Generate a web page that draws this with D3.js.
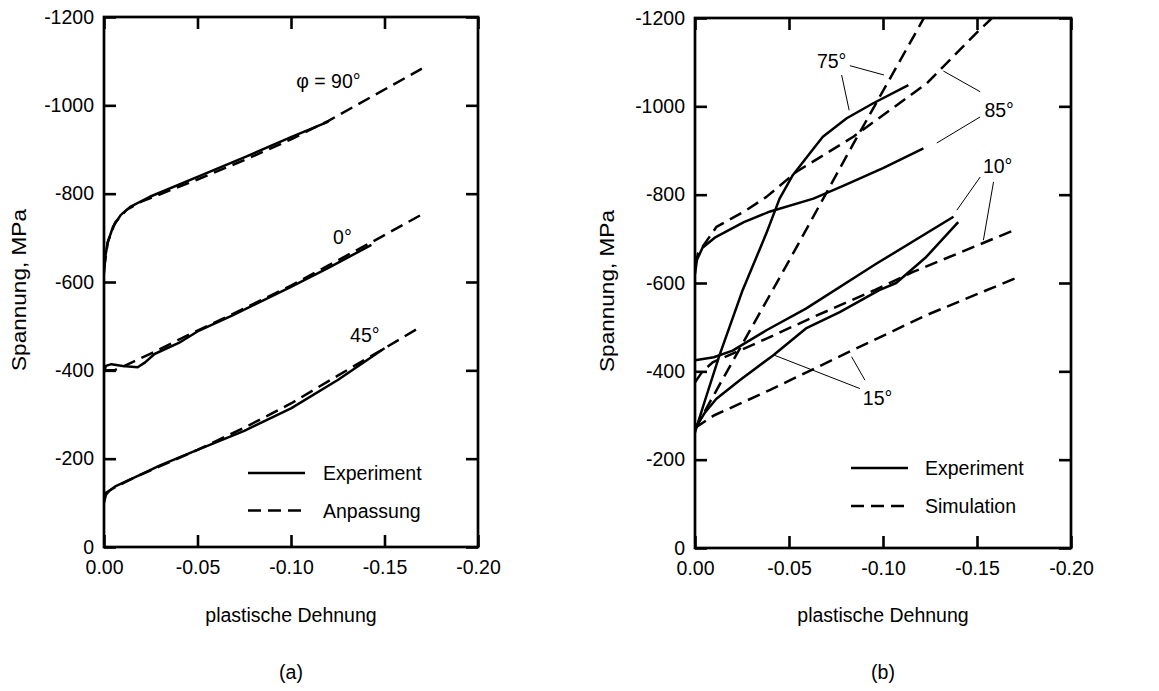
<!DOCTYPE html>
<html><head><meta charset="utf-8">
<script src="https://cdn.jsdelivr.net/npm/d3@7"></script>
<style>
body{margin:0;background:#fff}
text{font-family:"Liberation Sans",Arial,Helvetica,sans-serif;fill:#000}
</style>
</head><body>
<svg id="chart" width="1159" height="691"></svg>
<script>
// ---------- shared axis data ----------
const xTicks = [0, -0.05, -0.10, -0.15, -0.20];
const xTickLabels = ["0.00", "-0.05", "-0.10", "-0.15", "-0.20"];
const yTicks = [0, -200, -400, -600, -800, -1000, -1200];
const yTickLabels = ["0", "-200", "-400", "-600", "-800", "-1000", "-1200"];
const xTitle = "plastische Dehnung";
const yTitle = "Spannung, MPa";
const panelCaptions = ["(a)", "(b)"];

// ---------- panel (a): Experiment vs Anpassung ----------
const expA90 = [[0,-620],[-0.0008,-660],[-0.002,-690],[-0.0048,-725],[-0.009,-752],[-0.014,-770],[-0.0245,-793],[-0.05,-838],[-0.075,-882],[-0.10,-928],[-0.12,-963]];
const fitA90 = [[0,-630],[-0.002,-690],[-0.006,-735],[-0.012,-763],[-0.02,-782],[-0.05,-832],[-0.075,-876],[-0.10,-923],[-0.12,-965],[-0.17,-1083]];
const expA0  = [[0,-396],[-0.001,-410],[-0.004,-414],[-0.01,-410],[-0.018,-407],[-0.022,-418],[-0.027,-437],[-0.04,-462],[-0.05,-488],[-0.069,-525],[-0.10,-589],[-0.12,-632],[-0.143,-684]];
const fitA0  = [[0,-400],[-0.006,-401],[-0.015,-418],[-0.025,-438],[-0.05,-490],[-0.075,-540],[-0.10,-592],[-0.143,-690],[-0.17,-753]];
const expA45 = [[0,-100],[-0.001,-118],[-0.003,-128],[-0.006,-137],[-0.015,-155],[-0.03,-185],[-0.05,-220],[-0.075,-263],[-0.10,-314],[-0.125,-378],[-0.15,-450]];
const fitA45 = [[0,-120],[-0.005,-133],[-0.015,-155],[-0.03,-183],[-0.05,-220],[-0.075,-270],[-0.10,-325],[-0.125,-388],[-0.15,-450],[-0.17,-500]];
const labelsA = [
  {text:"\u03C6 = 90\u00B0", x:-0.120, y:-1039},
  {text:"0\u00B0", x:-0.1275, y:-685},
  {text:"45\u00B0", x:-0.1395, y:-464}
];
const legendA = ["Experiment", "Anpassung"];

// ---------- panel (b): Experiment vs Simulation ----------
const expB85 = [[0,-620],[-0.001,-652],[-0.004,-680],[-0.011,-704],[-0.026,-738],[-0.04,-762],[-0.063,-791],[-0.08,-822],[-0.10,-860],[-0.1215,-905]];
const simB85 = [[0,-640],[-0.0016,-667],[-0.0114,-727],[-0.0274,-765],[-0.038,-795],[-0.054,-852],[-0.0842,-931],[-0.1233,-1052],[-0.1499,-1167],[-0.158,-1200]];
const expB75 = [[0,-262],[-0.005,-330],[-0.013,-436],[-0.025,-580],[-0.038,-713],[-0.045,-791],[-0.052,-844],[-0.061,-893],[-0.068,-931],[-0.0807,-973],[-0.0948,-1007],[-0.1135,-1048]];
const simB75 = [[0,-270],[-0.0256,-465],[-0.05,-650],[-0.0842,-915],[-0.1206,-1191],[-0.1218,-1200]];
const expB10 = [[0,-425],[-0.01,-432],[-0.02,-447],[-0.038,-493],[-0.059,-542],[-0.0966,-644],[-0.1375,-750]];
const simB10 = [[0,-375],[-0.004,-400],[-0.0096,-421],[-0.02,-440],[-0.038,-474],[-0.063,-523],[-0.095,-583],[-0.116,-625],[-0.17,-720]];
const expB15 = [[0,-270],[-0.005,-305],[-0.0114,-338],[-0.0238,-380],[-0.0415,-436],[-0.059,-497],[-0.077,-534],[-0.098,-584],[-0.107,-600],[-0.123,-659],[-0.14,-738]];
const simB15 = [[0,-272],[-0.01,-300],[-0.04,-358],[-0.08,-440],[-0.123,-527],[-0.17,-610]];
const labelsB = [
  {text:"75\u00B0", x:-0.0727, y:-1086},
  {text:"85\u00B0", x:-0.1618, y:-975},
  {text:"10\u00B0", x:-0.1610, y:-849},
  {text:"15\u00B0", x:-0.0971, y:-323}
];
const leadersB = [
  [[-0.0824,-1092],[-0.1005,-1071]],
  [[-0.078,-1071],[-0.082,-991]],
  [[-0.1321,-1080],[-0.1517,-1033]],
  [[-0.1286,-917],[-0.1517,-976]],
  [[-0.1393,-765],[-0.1517,-840]],
  [[-0.1588,-829],[-0.1534,-697]],
  [[-0.0425,-436],[-0.0877,-361]],
  [[-0.0833,-433],[-0.0904,-380]]
];
const legendB = ["Experiment", "Simulation"];

// ---------- drawing ----------
const svg = d3.select("#chart");
const FS = 19.5;
const DASH = "13,7";

function panel(opts){
  const {x0,x1,y0,y1,series,labels,leaders,legend,legendPos,ytitleX,caption,id} = opts;
  const x = d3.scaleLinear().domain([0,-0.20]).range([x0,x1]);
  const y = d3.scaleLinear().domain([0,-1200]).range([y1,y0]);
  const g = svg.append("g");

  g.append("clipPath").attr("id","clip"+id)
    .append("rect").attr("x",x0).attr("y",y0).attr("width",x1-x0).attr("height",y1-y0);

  const line = d3.line().x(d=>x(d[0])).y(d=>y(d[1]));
  const plot = g.append("g").attr("clip-path","url(#clip"+id+")");
  series.forEach(s=>{
    plot.append("path").attr("d",line(s.data))
      .attr("fill","none").attr("stroke","#000").attr("stroke-width",2.5)
      .attr("stroke-linejoin","round")
      .attr("stroke-dasharray", s.dashed ? DASH : null);
  });
  (leaders||[]).forEach(l=>{
    g.append("path").attr("d",line(l)).attr("fill","none")
      .attr("stroke","#000").attr("stroke-width",1);
  });

  // axes with inward ticks
  const fmtX = (d,i)=>xTickLabels[i];
  const fmtY = (d,i)=>yTickLabels[i];
  const bottom = g.append("g").attr("transform",`translate(0,${y1})`)
    .call(d3.axisBottom(x).tickValues(xTicks).tickFormat(fmtX).tickSizeInner(-12).tickSizeOuter(0).tickPadding(13));
  const top = g.append("g").attr("transform",`translate(0,${y0})`)
    .call(d3.axisTop(x).tickValues(xTicks).tickFormat("").tickSizeInner(-12).tickSizeOuter(0));
  const left = g.append("g").attr("transform",`translate(${x0},0)`)
    .call(d3.axisLeft(y).tickValues(yTicks).tickFormat(fmtY).tickSizeInner(-12).tickSizeOuter(0).tickPadding(10));
  const right = g.append("g").attr("transform",`translate(${x1},0)`)
    .call(d3.axisRight(y).tickValues(yTicks).tickFormat("").tickSizeInner(-12).tickSizeOuter(0));
  [bottom,top,left,right].forEach(a=>{
    a.select(".domain").remove();
    a.selectAll(".tick line").attr("stroke","#000").attr("stroke-width",2.6);
    a.selectAll("text").attr("font-size",FS).attr("font-family",null).attr("fill","#000");
  });
  g.append("rect").attr("x",x0).attr("y",y0).attr("width",x1-x0).attr("height",y1-y0)
    .attr("fill","none").attr("stroke","#000").attr("stroke-width",2.7);

  // curve labels
  labels.forEach(l=>{
    g.append("text").attr("x",x(l.x)).attr("y",y(l.y)).attr("text-anchor","middle")
      .attr("font-size",FS).text(l.text);
  });

  // legend
  legend.forEach((t,i)=>{
    const ly = legendPos.y + i*legendPos.dy;
    g.append("line").attr("x1",legendPos.x).attr("x2",legendPos.x + (i===0?57:53))
      .attr("y1",ly).attr("y2",ly).attr("stroke","#000").attr("stroke-width",2.5)
      .attr("stroke-dasharray", i===1 ? DASH : null);
    g.append("text").attr("x",legendPos.tx).attr("y",ly+7).attr("font-size",FS).text(t);
  });

  // titles
  const cx = (x0+x1)/2;
  g.append("text").attr("x",cx).attr("y",622).attr("text-anchor","middle").attr("font-size",FS).text(xTitle);
  g.append("text").attr("transform",`translate(${ytitleX},${(y0+y1)/2 + 8}) rotate(-90)`)
    .attr("text-anchor","middle").attr("font-size",FS)
    .attr("textLength",162).attr("lengthAdjust","spacingAndGlyphs").text(yTitle);
  g.append("text").attr("x",cx).attr("y",679).attr("text-anchor","middle").attr("font-size",FS).text(caption);
}

panel({
  id:"a", x0:104, x1:478, y0:17, y1:547,
  series:[
    {data:expA90},{data:fitA90,dashed:true},
    {data:expA0},{data:fitA0,dashed:true},
    {data:expA45},{data:fitA45,dashed:true}
  ],
  labels:labelsA, leaders:[], legend:legendA,
  legendPos:{x:248, tx:323, y:473, dy:37.5},
  ytitleX:26, caption:panelCaptions[0]
});

panel({
  id:"b", x0:695, x1:1071, y0:18, y1:548,
  series:[
    {data:expB85},{data:simB85,dashed:true},
    {data:expB75},{data:simB75,dashed:true},
    {data:expB10},{data:simB10,dashed:true},
    {data:expB15},{data:simB15,dashed:true}
  ],
  labels:labelsB, leaders:leadersB, legend:legendB,
  legendPos:{x:851, tx:925, y:468, dy:38},
  ytitleX:614, caption:panelCaptions[1]
});
</script>
</body></html>
